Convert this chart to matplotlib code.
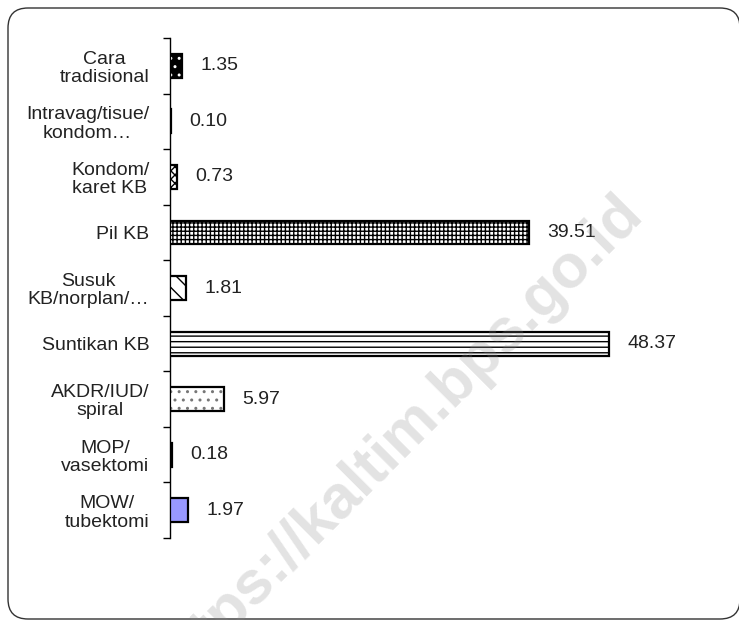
import matplotlib
matplotlib.use("Agg")
import matplotlib.pyplot as plt
from matplotlib.patches import FancyBboxPatch
import numpy as np

# data, top to bottom as in the chart
categories = ["Cara\ntradisional", "Intravag/tisue/\nkondom\u2026", "Kondom/\nkaret KB",
              "Pil KB", "Susuk\nKB/norplan/\u2026", "Suntikan KB", "AKDR/IUD/\nspiral",
              "MOP/\nvasektomi", "MOW/\ntubektomi"]
values = [1.35, 0.10, 0.73, 39.51, 1.81, 48.37, 5.97, 0.18, 1.97]
value_labels = ["1.35", "0.10", "0.73", "39.51", "1.81", "48.37", "5.97", "0.18", "1.97"]

# fill style per bar: face colour, hatch, hatch colour
faces = ["black", "black", "white", "white", "white", "white", "white", "black", "#9999ff"]
hatches = ["..", "", "xxxx", "++++", "\\\\", "---", "..", "", ""]
hatch_colors = ["white", "black", "black", "black", "black", "black", "#777777", "black", "black"]

plt.rcParams['font.family'] = ['Liberation Sans', 'DejaVu Sans']
plt.rcParams['hatch.linewidth'] = 1.0

fig = plt.figure(figsize=(7.39, 6.2), dpi=100)

# rounded frame around the chart area (inches, so the corners stay round)
frame = FancyBboxPatch((0.08, 0.01), 7.32, 6.11,
                       boxstyle="round,pad=0,rounding_size=0.2",
                       transform=fig.dpi_scale_trans, facecolor="none",
                       edgecolor="#333333", linewidth=1.0, zorder=-2)
fig.patches.append(frame)

ax = fig.add_axes([170 / 739, 1 - 538 / 620, (715 - 170) / 739, (538 - 38) / 620])
ax.set_facecolor("none")

n = len(categories)
ypos = np.arange(n)[::-1]
for y, v, h, fc, hc in zip(ypos, values, hatches, faces, hatch_colors):
    # hatch layer (hatch takes the edge colour), then the black outline on top
    ax.barh(y, v, height=0.43, color=fc, edgecolor=hc, linewidth=0, hatch=h, zorder=3)
    ax.barh(y, v, height=0.43, color="none", edgecolor="black", linewidth=1.6, zorder=4)

for y, v, lab in zip(ypos, values, value_labels):
    ax.text(v + 2.0, y, lab, va="center", ha="left", fontsize=14, color="#222222")

ax.set_xlim(0, 60)
ax.set_ylim(-0.5, n - 0.5)
ax.set_yticks(ypos)
ax.set_yticklabels(categories, fontsize=14, ha="right", multialignment="center",
                   color="#222222", linespacing=1.1)
ax.tick_params(axis="y", which="major", length=0, pad=15)
ax.set_yticks(np.arange(n + 1) - 0.5, minor=True)
ax.tick_params(axis="y", which="minor", length=5, width=1, direction="out")
ax.set_xticks([])
for s in ["top", "right", "bottom"]:
    ax.spines[s].set_visible(False)
ax.spines["left"].set_linewidth(1.0)

# watermark, translucent so the marks under it stay dark
fig.text(645 / 739, 1 - 215 / 620, "https://kaltim.bps.go.id", fontsize=44, fontweight="bold",
         color="#888888", alpha=0.24, rotation=45, ha="right", va="baseline",
         rotation_mode="anchor", zorder=10)

fig.savefig("out.png", dpi=100)
